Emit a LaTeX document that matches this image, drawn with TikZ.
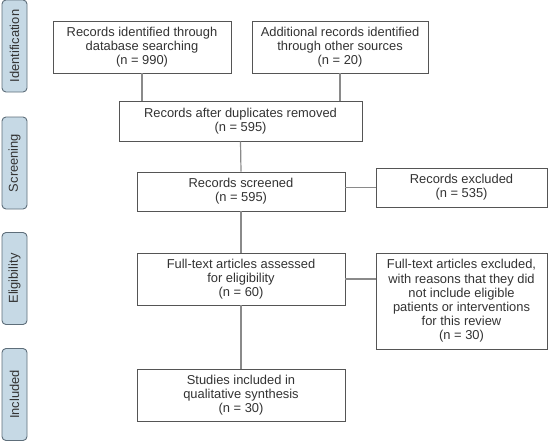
\documentclass[tikz,border=0pt]{standalone}
\usepackage{fontspec}
\setmainfont{Liberation Sans}
\definecolor{txt}{HTML}{333333}
\definecolor{bord}{HTML}{555555}
\definecolor{conn}{HTML}{8A8A8A}
\definecolor{sidefill}{HTML}{C6D9E5}
\definecolor{sidebord}{HTML}{5E6E7A}
\begin{document}
\begin{tikzpicture}[x=1pt,y=-1pt,
  box/.style={draw=bord, line width=0.9pt, fill=white, align=center, inner sep=0pt,
    text=txt, font=\fontsize{12.9}{14.2}\selectfont, minimum width=#1},
  side/.style={draw=sidebord, line width=0.9pt, fill=sidefill, rounded corners=4pt,
    inner sep=0pt, minimum width=25pt, minimum height=92pt},
  sidetext/.style={rotate=90, text=txt, inner sep=0pt, font=\fontsize{12.9}{14}\selectfont},
  conn/.style={draw=conn, line width=1.2pt}]
\useasboundingbox (0,0) rectangle (548,442);
% side labels
\node[side] (s1) at (14.5,46) {};
\node[sidetext] (s1t) at (s1.center) {Identification};
\node[side] (s2) at (14.5,163) {};
\node[sidetext] (s2t) at (s2.center) {Screening};
\node[side] (s3) at (14.5,278.5) {};
\node[sidetext] (s3t) at (s3.center) {Eligibility};
\node[side] (s4) at (14.5,394.5) {};
\node[sidetext] (s4t) at (s4.center) {Included};
% boxes
\node[box=178pt, minimum height=52pt] (b1) at (142,47) {Records identified through\\database searching\\(n = 990)};
\node[box=176pt, minimum height=52pt] (b2) at (340,47) {Additional records identified\\through other sources\\(n = 20)};
\node[box=243pt, minimum height=40pt] (b3) at (240.5,121) {Records after duplicates removed\\(n = 595)};
\node[box=208pt, minimum height=39pt] (b4) at (241,191.5) {Records screened\\(n = 595)};
\node[box=171pt, minimum height=39pt] (e1) at (461.5,187.5) {Records excluded\\(n = 535)};
\node[box=208pt, minimum height=52pt] (b5) at (241,279) {Full-text articles assessed\\for eligibility\\(n = 60)};
\node[box=171pt, minimum height=96pt] (e2) at (461.5,301) {Full-text articles excluded,\\with reasons that they did\\not include eligible\\patients or interventions\\for this review\\(n = 30)};
\node[box=208pt, minimum height=52pt] (b6) at (241,395) {Studies included in\\qualitative synthesis\\(n = 30)};
% connectors
\draw[conn] (b1.south) -- (b1.south |- b3.north);
\draw[conn] (b2.south) -- (b2.south |- b3.north);
\draw[conn] (b3.south) -- (b4.north);
\draw[conn] (b4.south) -- (b5.north);
\draw[conn] (b5.south) -- (b6.north);
\draw[conn] (e1.west) -- (e1.west -| b4.east);
\draw[conn] (b5.east) -- (b5.east -| e2.west);
\end{tikzpicture}
\end{document}
